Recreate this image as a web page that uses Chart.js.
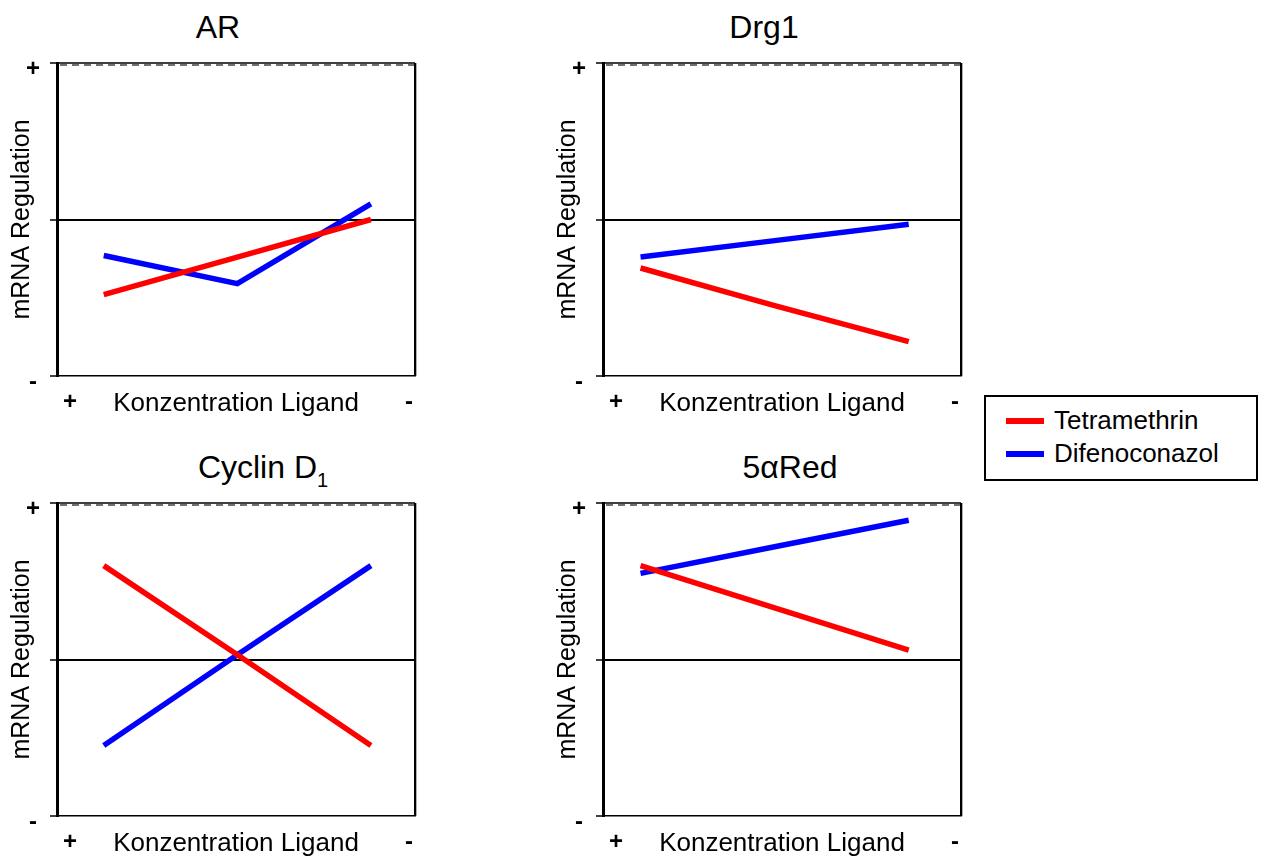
<!DOCTYPE html>
<html>
<head>
<meta charset="utf-8">
<title>mRNA Regulation</title>
<script src="https://cdn.jsdelivr.net/npm/chart.js@4.4.1/dist/chart.umd.min.js"></script>
<style>
  body { margin: 0; background: #fff; font-family: 'Liberation Sans', Arial, sans-serif; color: #000; }
  #page { position: relative; width: 1271px; height: 862px; overflow: hidden; }
  #page canvas { position: absolute; }
  .titel { position: absolute; font-size: 32px; line-height: 32px; white-space: nowrap; transform: translateX(-50%); }
  .titel sub { font-size: 20px; line-height: 0; vertical-align: -9px; }
  #legende { position: absolute; left: 984px; top: 395px; width: 270px; height: 82px; border: 2px solid #000; }
  .eintrag { position: absolute; left: 0; height: 33px; width: 100%; }
  .strich { position: absolute; left: 20px; top: 21px; width: 38px; height: 6px; }
  .name { position: absolute; left: 68px; top: 10px; font-size: 26px; line-height: 26px; white-space: nowrap; }
</style>
</head>
<body>
<div id="page">
  <div id="legende"></div>
</div>
<script>
// Konzentrationsstufen (hoch -> niedrig)
const categories = [0, 1, 2];
const seriesNames = ['Tetramethrin', 'Difenoconazol'];
const panelTitles = ['AR', 'Drg1', 'Cyclin D<sub>1</sub>', '5\u03b1Red'];

const yTickValues = [-1, 0, 1];
const yTickLabels = ['-', '', '+'];
const xTickLabels = ['+', '-'];
const yAxisTitle = 'mRNA Regulation';
const xAxisTitle = 'Konzentration Ligand';

const arTetramethrin = [-0.48, -0.24, 0.0];
const arDifenoconazol = [-0.23, -0.41, 0.10];
const drg1Tetramethrin = [-0.31, -0.55, -0.78];
const drg1Difenoconazol = [-0.24, -0.135, -0.03];
const cyclinTetramethrin = [0.60, 0.03, -0.55];
const cyclinDifenoconazol = [-0.55, 0.03, 0.60];
const redTetramethrin = [0.60, 0.33, 0.06];
const redDifenoconazol = [0.55, 0.72, 0.89];

const seriesColors = ['#ff0000', '#0000ff'];

const panels = [
  { left: 0,   top: 50,  xMin: -0.35, xMax: 2.33, titleX: 218, titleY: 11,  series: [arTetramethrin, arDifenoconazol] },
  { left: 546, top: 50,  xMin: -0.28, xMax: 2.39, titleX: 764, titleY: 11,  series: [drg1Tetramethrin, drg1Difenoconazol] },
  { left: 0,   top: 490, xMin: -0.35, xMax: 2.33, titleX: 263, titleY: 451, series: [cyclinTetramethrin, cyclinDifenoconazol] },
  { left: 546, top: 490, xMin: -0.28, xMax: 2.39, titleX: 790, titleY: 451, series: [redTetramethrin, redDifenoconazol] }
];

Chart.defaults.font.family = "'Liberation Sans', Arial, sans-serif";
Chart.defaults.color = '#000';

// Rahmen oben (gestrichelt) und rechts wie im Excel-Diagramm
const framePlugin = {
  id: 'frame',
  beforeDatasetsDraw(chart) {
    const { ctx, chartArea: a } = chart;
    ctx.save();
    ctx.strokeStyle = '#000';
    ctx.lineWidth = 1.5;
    ctx.beginPath();
    ctx.moveTo(a.left, a.top);
    ctx.lineTo(a.right, a.top);
    ctx.stroke();

    ctx.strokeStyle = '#707070';
    ctx.lineWidth = 2;
    ctx.setLineDash([7, 5]);
    ctx.beginPath();
    ctx.moveTo(a.left + 3, a.top + 2);
    ctx.lineTo(a.right, a.top + 2);
    ctx.stroke();
    ctx.setLineDash([]);

    ctx.strokeStyle = '#000';
    ctx.lineWidth = 2;
    ctx.beginPath();
    ctx.moveTo(a.right, a.top);
    ctx.lineTo(a.right, a.bottom);
    ctx.stroke();
    ctx.strokeStyle = '#b0b0b0';
    ctx.lineWidth = 1;
    ctx.beginPath();
    ctx.moveTo(a.right + 1.5, a.top);
    ctx.lineTo(a.right + 1.5, a.bottom);
    ctx.stroke();
    ctx.restore();
  }
};

const page = document.getElementById('page');

panels.forEach((p, n) => {
  const titel = document.createElement('div');
  titel.className = 'titel';
  titel.style.left = p.titleX + 'px';
  titel.style.top = p.titleY + 'px';
  titel.innerHTML = panelTitles[n];
  page.appendChild(titel);

  const canvas = document.createElement('canvas');
  canvas.width = 430;
  canvas.height = 380;
  canvas.style.left = p.left + 'px';
  canvas.style.top = p.top + 'px';
  page.appendChild(canvas);

  new Chart(canvas.getContext('2d'), {
    type: 'line',
    data: {
      datasets: p.series.map((werte, i) => ({
        label: seriesNames[i],
        data: categories.map((x, k) => ({ x: x, y: werte[k] })),
        borderColor: seriesColors[i],
        borderWidth: 5.5,
        pointRadius: 0,
        fill: false,
        tension: 0
      }))
    },
    options: {
      responsive: false,
      animation: false,
      layout: { padding: { top: 13, right: 15, left: 0, bottom: 0 } },
      plugins: {
        legend: { display: false },
        tooltip: { enabled: false }
      },
      scales: {
        x: {
          type: 'linear',
          min: p.xMin,
          max: p.xMax,
          afterFit: scale => {
            scale.height = 54;
            scale.paddingLeft = 0;
            scale.paddingRight = 0;
          },
          afterBuildTicks: scale => {
            const r = scale.max - scale.min;
            scale.ticks = [{ value: scale.min + r * 13 / 358 }, { value: scale.max - r * 6 / 358 }];
          },
          ticks: {
            callback: (value, index) => xTickLabels[index],
            font: { size: 24, weight: 'bold' },
            padding: 12,
            maxRotation: 0,
            minRotation: 0,
            autoSkip: false
          },
          grid: { color: 'rgba(0,0,0,0)', drawTicks: false },
          border: { display: true, color: '#000', width: 1.5 },
          title: {
            display: true,
            text: xAxisTitle,
            font: { size: 26 },
            padding: { top: 0, bottom: 11 }
          }
        },
        y: {
          min: -1,
          max: 1,
          afterFit: scale => {
            scale.width = 57;
            scale.paddingTop = 0;
            scale.paddingBottom = 0;
          },
          afterBuildTicks: scale => {
            scale.ticks = yTickValues.map(v => ({ value: v }));
          },
          ticks: {
            callback: value => yTickLabels[yTickValues.indexOf(value)],
            font: { size: 24, weight: 'bold' },
            crossAlign: 'center',
            padding: 10,
            labelOffset: 6,
            autoSkip: false
          },
          grid: {
            color: ctx => (ctx.tick && ctx.tick.value === 0 ? '#000' : 'rgba(0,0,0,0)'),
            lineWidth: 2,
            tickColor: '#000',
            tickLength: 7,
            tickWidth: 1.5
          },
          border: { display: true, color: '#000', width: 3 },
          title: {
            display: true,
            text: yAxisTitle,
            font: { size: 25 },
            padding: { top: 7, bottom: 0 }
          }
        }
      }
    },
    plugins: [framePlugin]
  });
});

const legende = document.getElementById('legende');
seriesNames.forEach((name, i) => {
  const eintrag = document.createElement('div');
  eintrag.className = 'eintrag';
  eintrag.style.top = (i * 33) + 'px';
  eintrag.innerHTML = `<span class="strich" style="background:${seriesColors[i]}"></span><span class="name">${name}</span>`;
  legende.appendChild(eintrag);
});
</script>
</body>
</html>
